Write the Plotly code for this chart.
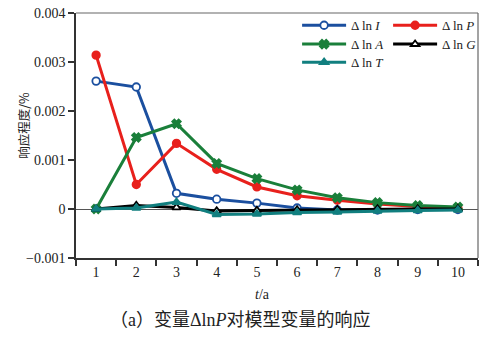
import plotly.graph_objects as go

t_labels = ["1", "2", "3", "4", "5", "6", "7", "8", "9", "10"]

d_lnI = [0.00261, 0.00249, 0.00032, 0.00020, 0.00012, 0.00002, -0.00002, -0.00002, -0.00001, -0.00001]
d_lnP = [0.00314, 0.00050, 0.00134, 0.00081, 0.00045, 0.00027, 0.00018, 0.00010, 0.00005, 0.00002]
d_lnA = [0.00000, 0.00146, 0.00174, 0.00093, 0.00062, 0.00039, 0.00023, 0.00013, 0.00007, 0.00004]
d_lnG = [0.00000, 0.00007, 0.00003, -0.00004, -0.00003, -0.00002, -0.00001, 0.00000, 0.00000, 0.00000]
d_lnT = [0.00000, 0.00002, 0.00014, -0.00011, -0.00010, -0.00007, -0.00006, -0.00004, -0.00003, -0.00002]

y_ticks = [-0.001, 0, 0.001, 0.002, 0.003, 0.004]
y_ticktext = ["\u22120.001", "0", "0.001", "0.002", "0.003", "0.004"]

serif = "Liberation Serif"
cjk = "Noto Sans CJK SC"

fig = go.Figure()

def add(name, y, color, symbol, fill, legend):
    fig.add_trace(go.Scatter(
        x=t_labels, y=y, name=name, mode="lines+markers",
        line=dict(color=color, width=3),
        marker=dict(symbol=symbol, size=7.5, color=fill, line=dict(color=color, width=1.8)),
        legend=legend,
    ))

add("\u0394 ln <i>I</i>", d_lnI, "#1b4f9f", "circle", "white", "legend")
add("\u0394 ln <i>P</i>", d_lnP, "#e8201c", "circle", "#e8201c", "legend")
add("\u0394 ln <i>A</i>", d_lnA, "#1a7f3a", "x", "#1a7f3a", "legend2")
add("\u0394 ln <i>G</i>", d_lnG, "#000000", "triangle-up", "white", "legend2")
add("\u0394 ln <i>T</i>", d_lnT, "#117f7f", "triangle-up", "#117f7f", "legend3")

leg_common = dict(yanchor="top", xanchor="left", x=0.55, bgcolor="rgba(0,0,0,0)",
                  orientation="h", entrywidth=32,
                  font=dict(family=serif, size=13, color="#222"), tracegroupgap=0,
                  itemwidth=44)

fig.update_layout(
    width=493, height=337,
    margin=dict(l=76, r=15, t=13, b=79, autoexpand=False),
    plot_bgcolor="white", paper_bgcolor="white",
    font=dict(family=serif, size=14, color="#222"),
    legend=dict(y=1.011, **leg_common),
    legend2=dict(y=0.934, **leg_common),
    legend3=dict(y=0.86, **leg_common),
    xaxis=dict(type="category", range=[-0.5, 9.5], tickson="boundaries",
               ticks="outside", ticklen=6, tickcolor="#333", tickwidth=1.5,
               showline=True, linecolor="#333", linewidth=1.5, mirror=False,
               showgrid=False, zeroline=False,
               tickfont=dict(family=serif, size=14, color="#222")),
    yaxis=dict(range=[-0.001, 0.004], tickvals=y_ticks, ticktext=y_ticktext,
               ticks="outside", ticklen=6, tickcolor="#333", tickwidth=1.5,
               showline=True, linecolor="#333", linewidth=1.5, mirror=False,
               showgrid=False, zeroline=True, zerolinecolor="#555", zerolinewidth=1,
               tickfont=dict(family=serif, size=14, color="#222")),
    showlegend=True,
)

# top and right border
fig.add_shape(type="line", xref="paper", yref="paper", x0=0, x1=1, y0=1, y1=1,
              line=dict(color="#666", width=1.2))
fig.add_shape(type="line", xref="paper", yref="paper", x0=1, x1=1, y0=0, y1=1,
              line=dict(color="#666", width=1.2))

fig.add_annotation(text="响应程度/%", xref="paper", yref="paper", x=-0.129, y=0.54,
                   xanchor="center", yanchor="middle",
                   textangle=-90, showarrow=False, font=dict(family=cjk, size=12.5, color="#222"))
fig.add_annotation(text="<i>t</i>/a", xref="paper", yref="paper", x=0.463, y=-0.151,
                   xanchor="center", yanchor="middle",
                   showarrow=False, font=dict(family=serif, size=14, color="#222"))
fig.add_annotation(text="（a）变量Δln<i>P</i>对模型变量的响应", xref="paper", yref="paper",
                   x=0.41, y=-0.253, xanchor="center", yanchor="middle", showarrow=False,
                   font=dict(family="Liberation Serif, Noto Sans CJK SC", size=18, color="#222"))

fig.write_html("out.html")
